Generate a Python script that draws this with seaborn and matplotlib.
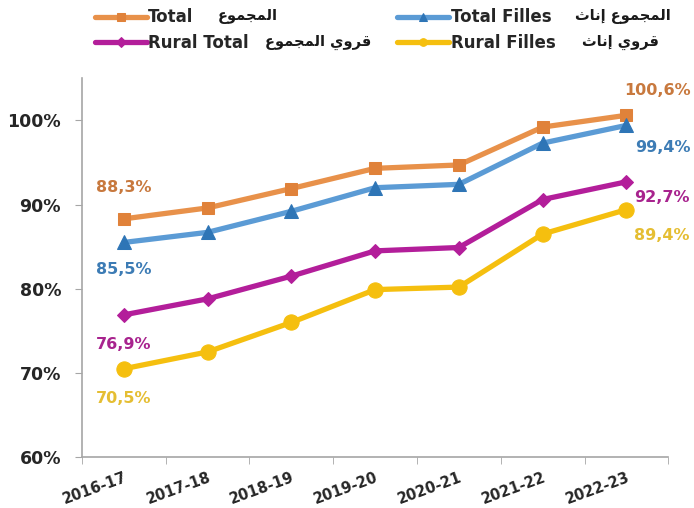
import pandas as pd
import matplotlib
matplotlib.use('Agg')
import matplotlib.pyplot as plt
from matplotlib.ticker import FuncFormatter, FixedLocator
import seaborn as sns

years = ['2016-17', '2017-18', '2018-19', '2019-20', '2020-21', '2021-22', '2022-23']
total = [88.3, 89.6, 91.9, 94.3, 94.7, 99.2, 100.6]
total_filles = [85.5, 86.7, 89.2, 92.0, 92.4, 97.3, 99.4]
rural_total = [76.9, 78.8, 81.5, 84.5, 84.9, 90.6, 92.7]
rural_filles = [70.5, 72.5, 76.0, 79.9, 80.2, 86.5, 89.4]

# arabe en formes de presentation, ordre visuel (matplotlib ne fait pas le shaping)
ar_majmou = '\ufec9\ufeee\ufee4\ufea0\ufee4\ufedf\ufe8d'
ar_inath = '\ufe99\ufe8e\ufee7\ufe87'
ar_qarawi = '\ufef1\ufeed\ufeae\ufed7'

labels_fr = ['Total', 'Total Filles', 'Rural Total', 'Rural Filles']
# le premier mot se lit a droite
labels_ar = [ar_majmou, ar_inath + ' ' + ar_majmou,
             ar_majmou + ' ' + ar_qarawi, ar_inath + ' ' + ar_qarawi]

df = pd.DataFrame({'annee': years, 'Total': total, 'Total Filles': total_filles,
                   'Rural Total': rural_total, 'Rural Filles': rural_filles})

sns.set_style('white')
plt.rcParams['font.family'] = ['DejaVu Sans']

fig = plt.figure(figsize=(6.94, 5.08), dpi=100)
ax = fig.add_axes([0.118, 0.100, 0.845, 0.746])

# serie, couleur ligne, couleur marqueur, marqueur, taille, couleur etiquette
styles = [('Total', '#E8914A', '#E0823A', 's', 8.5, '#C8793E'),
          ('Total Filles', '#5B9BD5', '#2E75B6', '^', 9.5, '#3D7CB5'),
          ('Rural Total', '#B31E9A', '#B31E9A', 'D', 7, '#A8238E'),
          ('Rural Filles', '#F5BF0F', '#F5BF0F', 'o', 11, '#E5BE33')]

handles = []
for (col, lc, mc, mk, ms, tc) in styles:
    sns.lineplot(data=df, x='annee', y=col, ax=ax, color=lc, linewidth=3.8,
                 marker=mk, markersize=ms, markerfacecolor=mc, markeredgecolor=mc,
                 sort=False)
    handles.append(ax.lines[-1])

# etiquettes premiere et derniere valeur
lab_kw = dict(textcoords='offset pixels', ha='center', va='center',
              fontsize=11.5, fontweight='bold')
ax.annotate('88,3%', (0, total[0]), xytext=(0, 31), color=styles[0][5], **lab_kw)
ax.annotate('85,5%', (0, total_filles[0]), xytext=(0, -27), color=styles[1][5], **lab_kw)
ax.annotate('76,9%', (0, rural_total[0]), xytext=(0, -30), color=styles[2][5], **lab_kw)
ax.annotate('70,5%', (0, rural_filles[0]), xytext=(0, -30), color=styles[3][5], **lab_kw)
ax.annotate('100,6%', (6, total[-1]), xytext=(31, 25), color=styles[0][5], **lab_kw)
ax.annotate('99,4%', (6, total_filles[-1]), xytext=(36, -22), color=styles[1][5], **lab_kw)
ax.annotate('92,7%', (6, rural_total[-1]), xytext=(35, -16), color=styles[2][5], **lab_kw)
ax.annotate('89,4%', (6, rural_filles[-1]), xytext=(35, -26), color=styles[3][5], **lab_kw)

ax.set_ylim(60, 105)
ax.set_xlim(-0.5, 6.5)
ax.set_yticks([60, 70, 80, 90, 100])
ax.yaxis.set_major_formatter(FuncFormatter(lambda v, p: f'{v:.0f}%'))
ax.xaxis.set_minor_locator(FixedLocator([i - 0.5 for i in range(len(years) + 1)]))
ax.tick_params(axis='x', which='major', length=0, pad=9)
ax.tick_params(axis='x', which='minor', length=5, color='#A6A6A6', direction='out')
ax.tick_params(axis='y', length=5, color='#A6A6A6', direction='out', pad=10)
ax.tick_params(axis='both', bottom=True, left=True, which='both')
for t in ax.get_xticklabels():
    t.set_rotation(20)
    t.set_rotation_mode('anchor')
    t.set_ha('right')
    t.set_va('top')
    t.set_fontweight('bold')
    t.set_fontsize(10.5)
for t in ax.get_yticklabels():
    t.set_fontweight('bold')
    t.set_fontsize(12.5)

ax.set_xlabel('')
ax.set_ylabel('')
sns.despine(ax=ax)
for s in ['left', 'bottom']:
    ax.spines[s].set_color('#A6A6A6')
    ax.spines[s].set_linewidth(1.2)

# ordre: colonne 1 (Total, Rural Total), colonne 2 (Total Filles, Rural Filles)
order = [0, 2, 1, 3]
leg = fig.legend([handles[i] for i in order], [labels_fr[i] for i in order],
                 ncol=2, loc='upper left', bbox_to_anchor=(0.132, 0.99), frameon=False,
                 prop={'weight': 'bold', 'size': 12}, handlelength=3.1,
                 columnspacing=8.9, handletextpad=0.1, labelspacing=0.45,
                 borderaxespad=0.0, borderpad=0.2)
for ln in leg.get_lines():
    ln.set_markersize(5.5)

# textes arabes a droite de chaque entree
ar_pos = [(218, 16), (575, 16), (265, 42), (582, 42)]
for txt, (px, py) in zip(labels_ar, ar_pos):
    fig.text(px / 694, 1 - py / 508, txt, ha='left', va='center',
             fontsize=10.5, fontweight='bold', color='#1a1a1a')

fig.savefig('out.png', dpi=100, facecolor='white')
